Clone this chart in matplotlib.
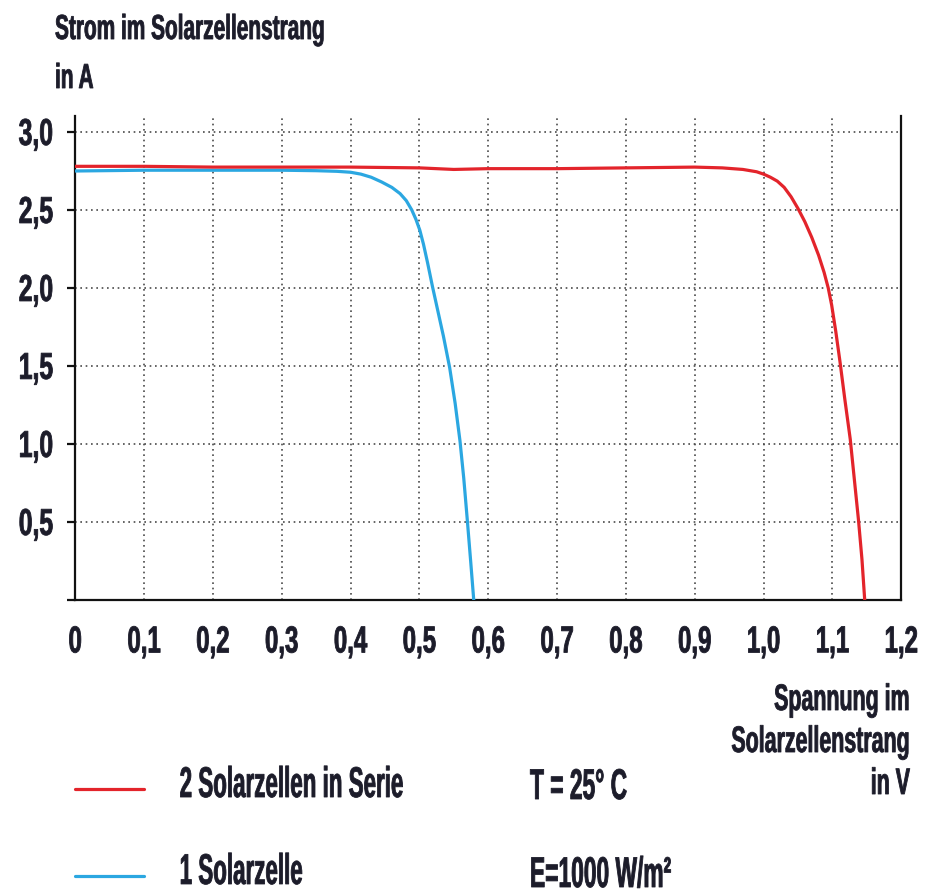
import matplotlib
matplotlib.use("Agg")
import matplotlib.pyplot as plt
from matplotlib.patheffects import AbstractPathEffect
from matplotlib.transforms import Affine2D

# I-V characteristic of one solar cell (voltage in V, current in A)
v_one = [0.0, 0.10, 0.20, 0.30, 0.35, 0.38, 0.40, 0.415, 0.43, 0.445, 0.46,
         0.472, 0.481, 0.489, 0.495, 0.5007, 0.506, 0.512, 0.519, 0.527, 0.535,
         0.544, 0.552, 0.559, 0.5645, 0.5695, 0.5745, 0.579]
i_one = [2.75, 2.755, 2.755, 2.755, 2.752, 2.748, 2.742, 2.73, 2.71, 2.68, 2.645,
         2.605, 2.56, 2.50, 2.44, 2.37, 2.28, 2.16, 2.01, 1.85, 1.69,
         1.49, 1.26, 1.02, 0.78, 0.52, 0.25, 0.0]

# I-V characteristic of two cells connected in series
v_two = [0.0, 0.10, 0.20, 0.30, 0.40, 0.50, 0.55, 0.60, 0.70, 0.80, 0.90, 0.94,
         0.97, 0.99, 1.00, 1.01, 1.02, 1.03, 1.04, 1.05, 1.06, 1.07, 1.08, 1.088,
         1.094, 1.099, 1.105, 1.111, 1.118, 1.126, 1.132, 1.138, 1.143, 1.147]
i_two = [2.78, 2.78, 2.775, 2.775, 2.775, 2.77, 2.76, 2.765, 2.765, 2.77, 2.775, 2.77,
         2.76, 2.745, 2.73, 2.71, 2.685, 2.645, 2.585, 2.51, 2.425, 2.325, 2.21, 2.10,
         2.00, 1.89, 1.72, 1.53, 1.29, 1.03, 0.77, 0.51, 0.26, 0.0]

x_ticks = [0.0, 0.1, 0.2, 0.3, 0.4, 0.5, 0.6, 0.7, 0.8, 0.9, 1.0, 1.1, 1.2]
x_tick_labels = ["0", "0,1", "0,2", "0,3", "0,4", "0,5", "0,6", "0,7", "0,8",
                 "0,9", "1,0", "1,1", "1,2"]
y_ticks = [0.0, 0.5, 1.0, 1.5, 2.0, 2.5, 3.0]
y_tick_labels = ["", "0,5", "1,0", "1,5", "2,0", "2,5", "3,0"]

series_labels = ["2 Solarzellen in Serie", "1 Solarzelle"]
conditions = ["T = 25° C", "E=1000 W/m²"]
y_title_lines = ["Strom im Solarzellenstrang", "in A"]
x_title_lines = ["Spannung im", "Solarzellenstrang", "in V"]

RED = "#e3242b"
BLUE = "#2ba7e1"
TXT = "#1c1c2a"


class Tall(AbstractPathEffect):
    """Stretch glyph outlines vertically, giving a narrow (condensed) look,
    with a thin outline stroke to darken the strokes."""

    def __init__(self, sy, anchor="baseline", stroke=0.6):
        super().__init__()
        self.sy = sy
        self.anchor = anchor
        self.stroke = stroke

    def draw_path(self, renderer, gc, tpath, affine, rgbFace=None):
        verts = affine.transform(tpath.vertices)
        if len(verts) == 0:
            return
        if self.anchor == "top":
            ya = verts[:, 1].max()
        elif self.anchor == "middle":
            ya = 0.5 * (verts[:, 1].min() + verts[:, 1].max())
        else:
            ya = affine.transform([[0.0, 0.0]])[0, 1]
        stretch = Affine2D().translate(0, -ya).scale(1, self.sy).translate(0, ya)
        gc0 = renderer.new_gc()
        gc0.copy_properties(gc)
        if self.stroke > 0 and rgbFace is not None:
            gc0.set_linewidth(self.stroke)
            gc0.set_foreground(rgbFace)
            gc0.set_joinstyle("round")
        renderer.draw_path(gc0, tpath, affine + stretch, rgbFace)
        gc0.restore()


plt.rcParams["font.family"] = ["Liberation Sans", "DejaVu Sans"]
plt.rcParams["font.weight"] = "bold"

W, H = 928, 893
fig = plt.figure(figsize=(W / 100, H / 100), dpi=100)
ax = fig.add_axes([75.2 / W, 293 / H, 826 / W, 483.6 / H])

ax.set_xlim(0, 1.2)
ax.set_ylim(0, 3.1)

l_one, = ax.plot(v_one, i_one, color=BLUE, lw=2.3, solid_capstyle="round", zorder=3)
l_two, = ax.plot(v_two, i_two, color=RED, lw=2.3, solid_capstyle="round", zorder=4)

ax.set_axisbelow(True)
ax.grid(True, color="#4a4a4a", lw=1.2, linestyle=(0, (1, 2.2)))

# tick labels: narrow digits
ax.set_xticks(x_ticks)
ax.set_xticklabels(x_tick_labels)
ax.set_yticks(y_ticks)
ax.set_yticklabels(y_tick_labels)
ax.tick_params(axis="x", length=0, pad=18, labelsize=17.3, labelcolor=TXT)
ax.tick_params(axis="y", length=5.8, width=1.6, pad=10, direction="out",
               labelsize=17.8, labelcolor=TXT, color="#111111")
for t in ax.get_xticklabels():
    t.set_path_effects([Tall(1.5625, "top")])
for t in ax.get_yticklabels():
    t.set_path_effects([Tall(1.515, "middle")])

ax.spines["top"].set_visible(False)
for side in ("left", "bottom", "right"):
    ax.spines[side].set_linewidth(1.6)
    ax.spines[side].set_color("#111111")

# axis titles
for k, line in enumerate(y_title_lines):
    fig.text(55 / W, 1 - (39 + 49 * k) / H, line, ha="left", va="baseline",
             fontsize=15.0, color=TXT, path_effects=[Tall(1 / 0.60)])
for k, line in enumerate(x_title_lines):
    fig.text(910 / W, 1 - (710 + 42 * k) / H, line, ha="right", va="baseline",
             fontsize=15.4, color=TXT, path_effects=[Tall(1 / 0.58)])

# legend and measuring conditions
leg = ax.legend(handles=[l_two, l_one], labels=series_labels, loc="upper left",
                bbox_to_anchor=(75 / W, 1 - 781 / H), bbox_transform=fig.transFigure,
                frameon=False, fontsize=16.1, handlelength=3.08, handletextpad=1.6,
                labelspacing=2.95, borderpad=0, borderaxespad=0)
for t in leg.get_texts():
    t.set_color(TXT)
    t.set_path_effects([Tall(1 / 0.52)])

for k, txt in enumerate(conditions):
    fig.text(530 / W, 1 - (799 + 88 * k) / H, txt, ha="left", va="baseline",
             fontsize=16.4, color=TXT, path_effects=[Tall(1 / 0.53)])

fig.savefig("out.png", dpi=100)
